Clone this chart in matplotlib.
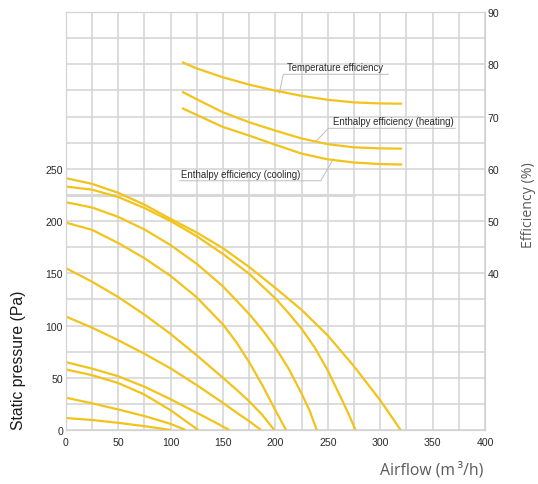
import matplotlib
matplotlib.use("Agg")
import matplotlib.pyplot as plt

# fan curves: airflow (m3/h) -> static pressure (Pa)
fan_x_1 = [0, 25, 50, 75, 87.5, 100]
fan_p_1 = [11.5, 9.6, 6.9, 3.7, 1.9, 0]
fan_x_2 = [0, 25, 50, 75, 100, 114.5]
fan_p_2 = [31, 25.6, 19.7, 13.4, 5.9, 0]
fan_x_3 = [0, 25, 50, 75, 100, 112.5, 126.5]
fan_p_3 = [58, 52.5, 45, 34, 19, 10, 0]
fan_x_4 = [0, 25, 50, 75, 100, 125, 142.5, 156]
fan_p_4 = [65, 58.8, 51.5, 41.5, 29.5, 16.5, 7.4, 0]
fan_x_5 = [0, 25, 50, 75, 100, 125, 150, 162.5, 175, 186.4]
fan_p_5 = [108.7, 98, 86, 73, 59, 43, 26, 17, 8.5, 0]
fan_x_6 = [0, 25, 50, 75, 100, 125, 150, 162.5, 175, 187.5, 199]
fan_p_6 = [155, 142, 127.3, 110.5, 92, 71.5, 50, 39, 27.5, 14.5, 0]
fan_x_7 = [0, 25, 50, 75, 100, 125, 150, 162.5, 175, 187.5, 200, 210.2]
fan_p_7 = [198.5, 191.6, 179, 164.5, 147.5, 127, 101, 84.5, 65, 43, 19, 0]
fan_x_8 = [0, 25, 50, 75, 100, 125, 150, 175, 187.5, 200, 212.5, 225, 232.5, 239.5]
fan_p_8 = [218, 213, 204, 192, 177, 159, 137.5, 111, 96, 79, 59, 35, 19, 0]
fan_x_9 = [0, 25, 50, 75, 100, 125, 150, 175, 200, 212.5, 225, 237.5, 250, 262.5, 270, 276.5]
fan_p_9 = [233, 230, 223, 212.5, 200, 185.5, 168.5, 149.5, 126, 112, 97, 79, 57, 31, 15, 0]
fan_x_10 = [0, 25, 50, 75, 100, 125, 150, 175, 200, 225, 250, 275, 300, 310, 319.5]
fan_p_10 = [241, 235.6, 227, 215.7, 202, 189, 174, 156, 136, 115, 90.5, 61, 28.5, 14, 0]

# efficiency curves (%)
eff_x = [111, 125, 150, 175, 200, 225, 250, 275, 300, 321]
temp_eff = [80.4, 79.2, 77.5, 76.1, 74.95, 73.95, 73.2, 72.7, 72.5, 72.45]
heat_eff = [74.75, 73.3, 70.8, 68.9, 67.3, 65.8, 64.7, 64.1, 63.9, 63.85]
cool_eff = [71.6, 70.3, 68.0, 66.35, 64.6, 62.9, 61.8, 61.2, 60.9, 60.8]

x_ticks = [0, 50, 100, 150, 200, 250, 300, 350, 400]
p_ticks = [0, 50, 100, 150, 200, 250]
eff_ticks = [40, 50, 60, 70, 80, 90]

yellow = '#F2C31B'
grid_c = '#d3d3d3'
txt_c = '#2a2a2a'

fig = plt.figure(figsize=(5.38, 4.85), dpi=100)
ax = fig.add_axes([0.1221, 0.1113, 0.7794, 0.8619])
ax.set_xlim(0, 400)
ax.set_ylim(0, 400)

# grid every 25
ax.set_xticks(range(0, 401, 25), minor=True)
ax.set_yticks(range(0, 401, 25), minor=True)
ax.set_xticks(x_ticks)
ax.set_yticks(p_ticks)
ax.grid(which='both', color=grid_c, linewidth=1.1)
ax.set_axisbelow(True)
ax.plot([0, 275], [225, 225], color='#d8d8d8', linewidth=2.2, zorder=1)

ax.tick_params(which='both', length=0)
ax.tick_params(axis='x', labelsize=7.6, colors=txt_c, pad=5)
ax.tick_params(axis='y', labelsize=7.6, colors=txt_c, pad=2)
for lbl in ax.get_xticklabels() + ax.get_yticklabels():
    lbl.set_family('Liberation Sans')
for s in ax.spines.values():
    s.set_color(grid_c)

fans = [(fan_x_1, fan_p_1), (fan_x_2, fan_p_2), (fan_x_3, fan_p_3), (fan_x_4, fan_p_4),
        (fan_x_5, fan_p_5), (fan_x_6, fan_p_6), (fan_x_7, fan_p_7), (fan_x_8, fan_p_8),
        (fan_x_9, fan_p_9), (fan_x_10, fan_p_10)]
for fx, fp in fans:
    ax.plot(fx, fp, color=yellow, linewidth=1.6, solid_capstyle='butt',
            solid_joinstyle='round', zorder=3)

# efficiency axis on the right
ax2 = ax.twinx()
ax2.set_ylim(10, 90)
ax2.set_yticks(eff_ticks)
ax2.tick_params(length=0, labelsize=7.6, colors=txt_c, pad=2)
for lbl in ax2.get_yticklabels():
    lbl.set_family('Liberation Sans')
for s in ax2.spines.values():
    s.set_color(grid_c)

for ev in [temp_eff, heat_eff, cool_eff]:
    ax2.plot(eff_x, ev, color=yellow, linewidth=1.6, solid_capstyle='butt',
             solid_joinstyle='round', zorder=3)

# labels with underline + leader line
lc = '#bdbdbd'
ax2.plot([203.8, 207.6, 307.8], [74.5, 78.08, 78.08], color=lc, linewidth=0.7)
ax2.text(211.4, 78.5, 'Temperature efficiency', fontsize=6.9, color=txt_c,
         family='Liberation Sans', va='bottom')
ax2.plot([239.5, 250.6, 371.5], [65.4, 67.74, 67.74], color=lc, linewidth=0.7)
ax2.text(255.3, 68.15, 'Enthalpy efficiency (heating)', fontsize=6.9, color=txt_c,
         family='Liberation Sans', va='bottom')
ax2.plot([109, 243.3, 255.3], [57.7, 57.7, 61.87], color=lc, linewidth=0.7)
ax2.text(109.7, 58.1, 'Enthalpy efficiency (cooling)', fontsize=6.9, color=txt_c,
         family='Liberation Sans', va='bottom')

fig.text(0.034, 0.258, 'Static pressure (Pa)', rotation=90, ha='center', va='center',
         fontsize=11.3, color='#1a1a1a', family='Liberation Sans')
fig.text(483 / 538, 1 - 470 / 485, 'Airflow (m\u2009\u00b3/h)', ha='right', va='center',
         fontsize=11.3, color='#5a5a5a', family=['Open Sans', 'DejaVu Sans'])
fig.text(528 / 538, 1 - 205 / 485, 'Efficiency (%)', rotation=90, ha='center', va='center',
         fontsize=10.2, color='#5a5a5a', family=['Open Sans', 'DejaVu Sans'])

fig.savefig('out.png', dpi=100)
